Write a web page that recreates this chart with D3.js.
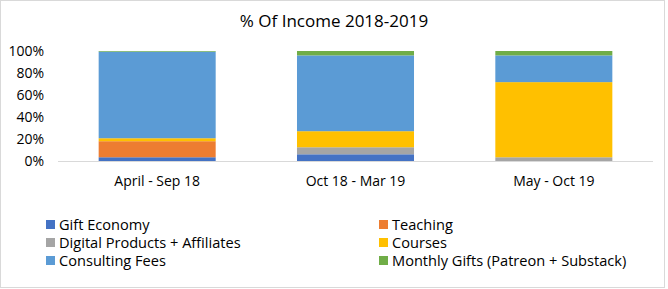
<!DOCTYPE html>
<html><head><meta charset="utf-8">
<script src="https://cdn.jsdelivr.net/npm/d3@7"></script>
<style>html,body{margin:0;padding:0;background:#fff;}svg{display:block;font-family:"Open Sans",sans-serif;}</style>
</head><body><svg id="c" width="668" height="289"></svg>
<script>
const categories = ["April - Sep 18", "Oct 18 - Mar 19", "May - Oct 19"];
const seriesNames = ["Gift Economy", "Teaching", "Digital Products + Affiliates", "Courses", "Consulting Fees", "Monthly Gifts (Patreon + Substack)"];
const giftEconomy = [3.4, 6.1, 0];
const teaching = [14.6, 0, 0];
const digitalProducts = [0, 6.4, 3.4];
const courses = [2.7, 14.6, 68.3];
const consultingFees = [78.7, 68.9, 24.3];
const monthlyGifts = [0.6, 4.0, 4.0];
const yTicks = [0, 20, 40, 60, 80, 100];
const colors = ["#4472C4", "#ED7D31", "#A5A5A5", "#FFC000", "#5B9BD5", "#70AD47"];

const seriesVals = [giftEconomy, teaching, digitalProducts, courses, consultingFees, monthlyGifts];
const rows = categories.map((c, i) => {
  const r = {cat: c};
  seriesNames.forEach((s, j) => r[s] = seriesVals[j][i]);
  return r;
});

const svg = d3.select("#c");
svg.append("rect").attr("x", 0.5).attr("y", 0.5).attr("width", 664).attr("height", 287)
  .attr("fill", "#fff").attr("stroke", "#D9D9D9");

svg.append("text").attr("x", 334).attr("y", 27).attr("text-anchor", "middle")
  .attr("font-size", 17).attr("fill", "#000").text("% Of Income 2018-2019");

const x = d3.scaleBand().domain(categories).range([58, 653]).paddingInner(0.41).paddingOuter(0.205);
const y = d3.scaleLinear().domain([0, 100]).range([161, 51]);

const stack = d3.stack().keys(seriesNames)(rows);
svg.append("g").selectAll("g").data(stack).join("g")
  .attr("fill", (d, i) => colors[i])
  .selectAll("rect").data(d => d).join("rect")
  .attr("x", d => x(d.data.cat))
  .attr("width", x.bandwidth())
  .attr("y", d => y(d[1]))
  .attr("height", d => y(d[0]) - y(d[1]));

svg.append("line").attr("x1", 58).attr("x2", 653).attr("y1", 161.5).attr("y2", 161.5)
  .attr("stroke", "#D9D9D9");

svg.append("g").selectAll("text").data(yTicks).join("text")
  .attr("x", 44).attr("y", d => y(d) + 5).attr("text-anchor", "end")
  .attr("font-size", 14).attr("fill", "#000").text(d => d + "%");

svg.append("g").selectAll("text").data(categories).join("text")
  .attr("x", d => x(d) + x.bandwidth() / 2).attr("y", 186).attr("text-anchor", "middle")
  .attr("font-size", 14).attr("fill", "#000").text(d => d);

const legPos = seriesNames.map((s, i) => ({s, c: colors[i], x: i % 2 === 0 ? 46 : 379, y: 224 + Math.floor(i / 2) * 18}));
const lg = svg.append("g").selectAll("g").data(legPos).join("g");
lg.append("rect").attr("x", d => d.x).attr("y", d => d.y - 4).attr("width", 9).attr("height", 9).attr("fill", d => d.c);
lg.append("text").attr("x", d => d.x + 13).attr("y", d => d.y + 5.5).attr("font-size", 14.6).attr("fill", "#000").text(d => d.s);
</script></body></html>
